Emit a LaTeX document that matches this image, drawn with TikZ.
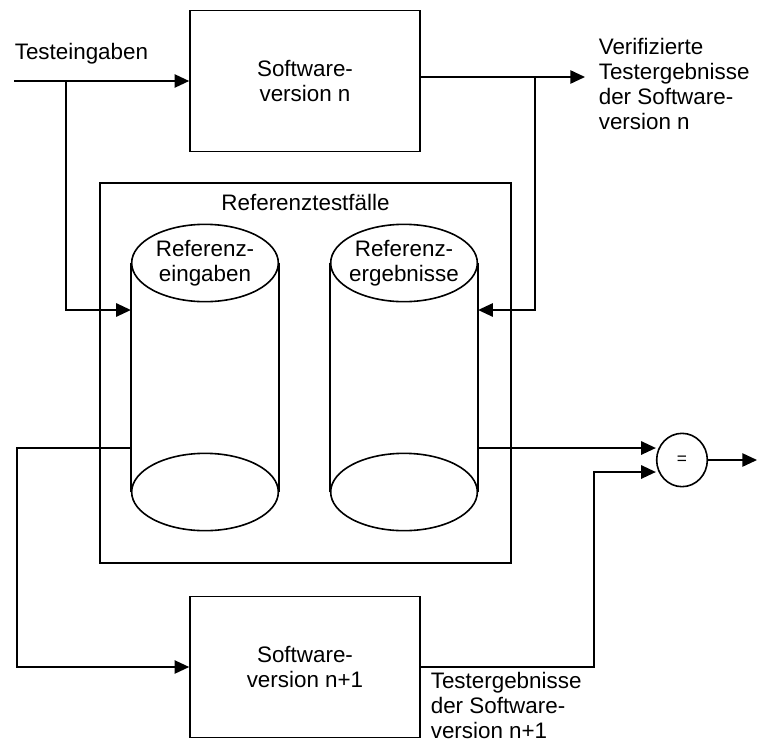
\documentclass[tikz,border=0pt]{standalone}
\usepackage{fontspec}
\setmainfont{Liberation Sans}
\usetikzlibrary{shapes.geometric, arrows.meta, positioning}

\begin{document}
\begin{tikzpicture}[x=0.75pt, y=-0.75pt, line width=1.2pt, font=\fontsize{16.8}{18.8}\selectfont]
\tikzstyle{swbox} = [rectangle, draw, minimum width=172.5pt, minimum height=106pt, align=center]
\tikzstyle{disc} = [ellipse, draw, minimum width=110pt, minimum height=58pt, inner sep=0pt]
\tikzstyle{disctext} = [align=center, inner sep=0pt]
\tikzstyle{flow} = [-{Triangle[length=11pt, width=10pt]}]
\tikzstyle{lbl} = [align=left, inner sep=0pt, anchor=north west]

\useasboundingbox (0,0) rectangle (762,742);

% software versions
\node (swn) [swbox] at (305,81) {Software-\\version n};
\node (swm) [swbox] at (305,667) {Software-\\version n+1};

% reference test cases
\node (ref) [rectangle, draw, minimum width=308pt, minimum height=285pt] at (305.5,373) {};
\node (reftitle) [below=8.25pt of ref.north, inner sep=0pt] {Referenztestf\"alle};

\node (topin) [disc] at (205,263) {};
\node (botin) [disc] at (205,492) {};
\node (topout) [disc] at (404,263) {};
\node (botout) [disc] at (404,492) {};
\node (intext) [disctext] at (topin) {Referenz-\\eingaben};
\node (outtext) [disctext] at (topout) {Referenz-\\ergebnisse};
\draw (topin.west) -- (botin.west);
\draw (topin.east) -- (botin.east);
\draw (topout.west) -- (botout.west);
\draw (topout.east) -- (botout.east);

% comparison
\node (eq) [ellipse, draw, minimum width=38pt, minimum height=40pt, inner sep=0pt, font=\fontsize{13}{15}\selectfont] at (682,460) {=};

% inputs and results
\coordinate (tin) at (14,81);
\coordinate (tbr) at (66,81);
\coordinate (vbr) at (535,77);
\coordinate (vout) at (585,77);
\coordinate (loopl) at (17,448);
\coordinate (loopr) at (594,667);
\coordinate (eqout) at (757,460);

\node (tinlbl) [anchor=base west, inner sep=0pt] at (14,60) {Testeingaben};
\node (voutlbl) [lbl] at (598,37) {Verifizierte\\Testergebnisse\\der Software-\\version n};
\node (mlbl) [lbl] at (430,671) {Testergebnisse\\der Software-\\version n+1};

\draw [flow] (tin) -- (swn.west);
\draw [flow] (tbr) |- (topin.west |- 0,310);
\draw [flow] (swn.east |- vbr) -- (vout);
\draw [flow] (vbr) |- (topout.east |- 0,310);
\draw [flow] (topin.west |- loopl) -- (loopl) |- (swm.west);
\draw [flow] (topout.east |- 0,448) -- (eq.west |- 0,448);
\draw [flow] (swm.east) -- (loopr) |- (eq.west |- 0,472);
\draw [flow] (eq.east) -- (eqout);

\end{tikzpicture}
\end{document}
